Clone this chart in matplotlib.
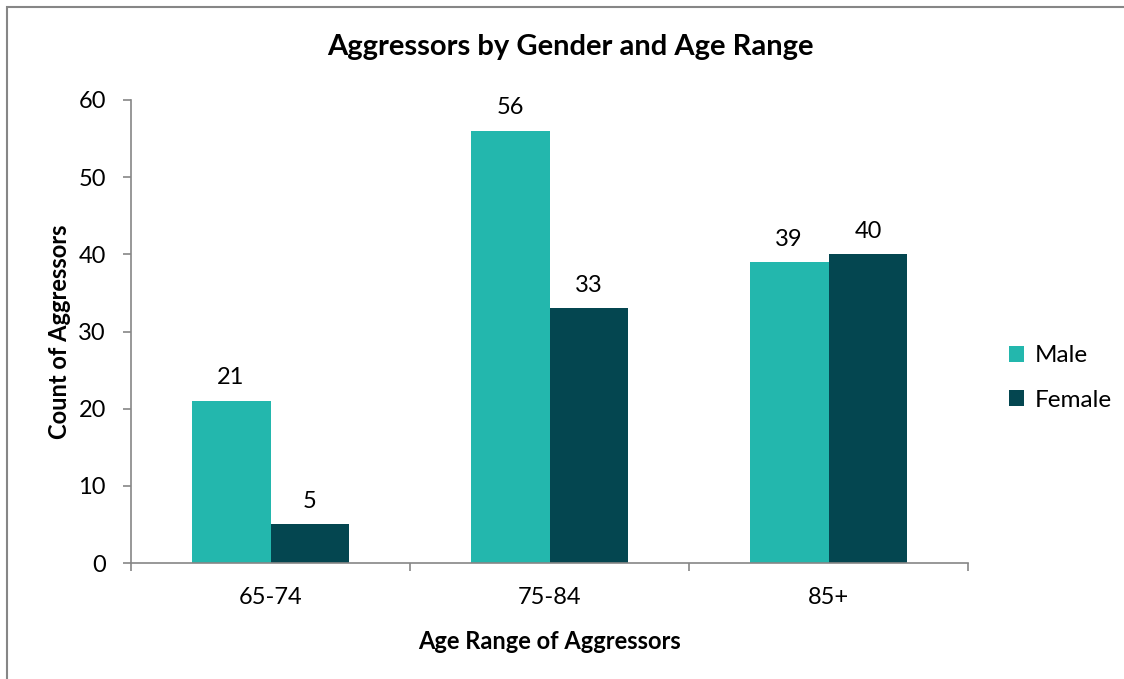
import matplotlib
matplotlib.use("Agg")
import matplotlib.pyplot as plt
from matplotlib.patches import Rectangle
import numpy as np

categories = ["65-74", "75-84", "85+"]
male = [21, 56, 39]
female = [5, 33, 40]
series_names = ["Male", "Female"]
colors = ["#23B7AD", "#044650"]

plt.rcParams['font.family'] = ['Lato', 'DejaVu Sans']

W, H = 1124, 679
fig = plt.figure(figsize=(W / 100, H / 100), dpi=100)
ax = fig.add_axes([131 / W, 1 - 563 / H, (968 - 131) / W, (563 - 100) / H])

x = np.arange(len(categories))
bw = 0.283
b1 = ax.bar(x - bw / 2, male, bw, color=colors[0], label=series_names[0])
b2 = ax.bar(x + bw / 2, female, bw, color=colors[1], label=series_names[1])
for bars in (b1, b2):
    for r in bars:
        ax.annotate(f"{int(r.get_height())}", (r.get_x() + r.get_width() / 2, r.get_height()),
                    xytext=(0, 9), textcoords="offset points", ha="center", va="bottom",
                    fontsize=17)

ax.set_xlim(-0.5, len(categories) - 0.5)
ax.set_ylim(0, 60)
ax.set_yticks(range(0, 61, 10))
ax.set_xticks(x)
ax.set_xticklabels(categories)
ax.set_xticks(np.arange(-0.5, len(categories), 1), minor=True)
ax.tick_params(axis="x", which="major", length=0, pad=17, labelsize=17)
ax.tick_params(axis="x", which="minor", length=6, color="#868686", width=1.2)
ax.tick_params(axis="y", length=6, color="#868686", width=1.2, labelsize=17, pad=12)
for s in ["top", "right"]:
    ax.spines[s].set_visible(False)
for s in ["left", "bottom"]:
    ax.spines[s].set_color("#868686")
    ax.spines[s].set_linewidth(1.2)

ax.set_xlabel("Age Range of Aggressors", fontsize=17, fontweight="bold", labelpad=16)
ax.set_ylabel("Count of Aggressors", fontsize=17, fontweight="bold", labelpad=5)
fig.text(570 / W, 1 - 47 / H, "Aggressors by Gender and Age Range", ha="center", va="center",
         fontsize=21, fontweight="bold")

leg = ax.legend(loc="center left", bbox_to_anchor=(1009 / W, 1 - 378 / H), bbox_transform=fig.transFigure,
                frameon=False, fontsize=17.5, handlelength=0.62, handleheight=0.62,
                handletextpad=0.45, labelspacing=0.95, borderpad=0, borderaxespad=0)

fig.patches.append(Rectangle((7 / W, -0.05), 1.1, 1 - 7 / H + 0.05, transform=fig.transFigure,
                             fill=False, edgecolor="#868686", linewidth=1.5))

fig.savefig("out.png", dpi=100)
